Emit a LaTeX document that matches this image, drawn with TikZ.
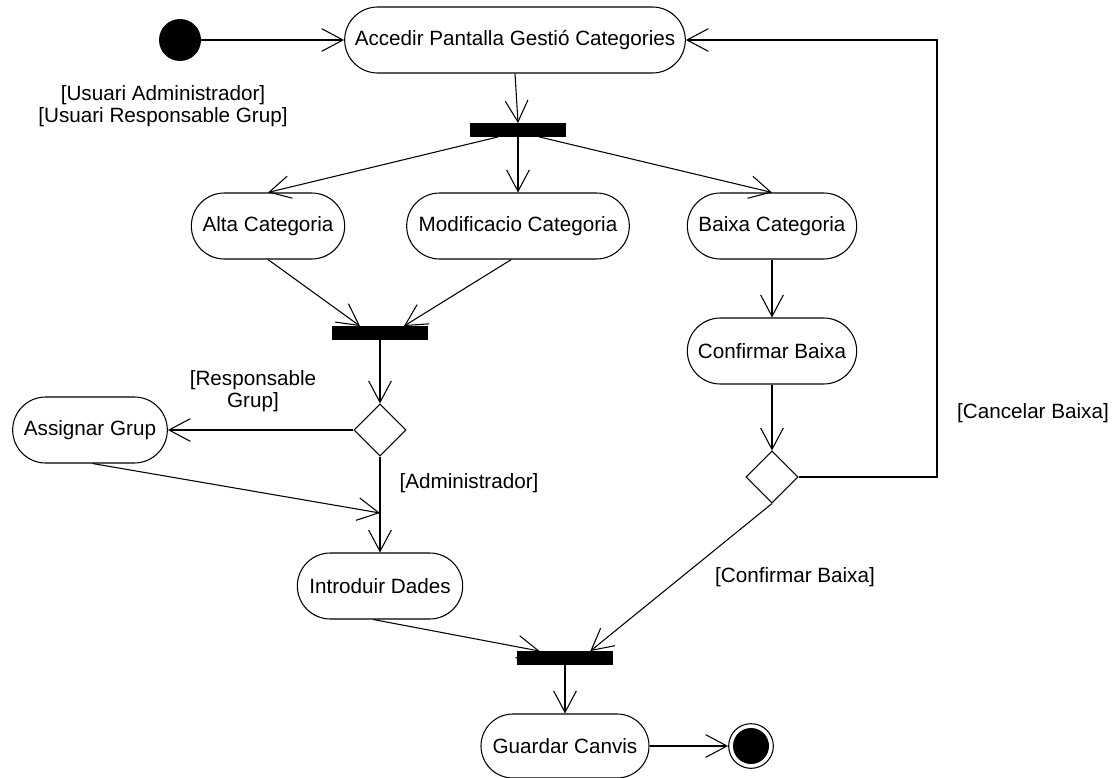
\documentclass[tikz,border=0pt]{standalone}
\usepackage{fontspec}
\setmainfont{Liberation Sans}
\usetikzlibrary{arrows.meta,shapes.misc,shapes.geometric}
\begin{document}
\begin{tikzpicture}[x=0.75pt,y=-0.75pt,
  font=\fontsize{15.5}{16.5}\selectfont,
  act/.style={rounded rectangle,draw,line width=0.8pt,minimum height=49.5pt,inner sep=2pt},
  bar/.style={fill=black,minimum width=72pt,minimum height=10pt,inner sep=0},
  dec/.style={diamond,draw,line width=0.8pt,minimum width=39pt,minimum height=39pt,inner sep=0},
  flow/.style={line width=0.8pt,-{Straight Barb[length=16pt,width=17pt,line width=0.8pt]}},
  lbl/.style={align=center,inner sep=0}]
\useasboundingbox (0,0) rectangle (1114,778);
% nodes
\node[circle,fill=black,minimum size=31.5pt,inner sep=0] (start) at (180,40) {};
\node[act,minimum width=259.5pt] (acc) at (515,40) {Accedir Pantalla Gestió Categories};
\node[bar] (bar1) at (518,130) {};
\node[act,minimum width=119pt] (alta) at (268,226) {Alta Categoria};
\node[act,minimum width=171pt] (mod) at (518,226) {Modificacio Categoria};
\node[act,minimum width=131pt] (baixa) at (772,226) {Baixa Categoria};
\node[bar] (bar2) at (380,333) {};
\node[act,minimum width=131pt] (conf) at (772,351) {Confirmar Baixa};
\node[dec] (d1) at (380,430) {};
\node[act,minimum width=120pt] (assig) at (90,430) {Assignar Grup};
\node[act,minimum width=128pt] (intro) at (380,586) {Introduir Dades};
\node[dec] (d2) at (772,477) {};
\node[bar] (bar3) at (565,658) {};
\node[act,minimum width=130pt,minimum height=48pt] (guard) at (565,746) {Guardar Canvis};
\node[circle,draw,line width=0.8pt,minimum size=33.5pt,inner sep=0] (end) at (751,746) {};
\node[circle,fill=black,minimum size=27pt,inner sep=0] (endin) at (end) {};
\coordinate (m) at (380,513);
\coordinate (rx) at (937,0);
% labels
\node[lbl] (l1) at (163,106) {{[Usuari Administrador]}\\ {[Usuari Responsable Grup]}};
\node[lbl] (l2) at (253,391) {{[Responsable}\\ {Grup]}};
\node[lbl] (l3) at (469,483) {{[Administrador]}};
\node[lbl] (l4) at (1033,413) {{[Cancelar Baixa]}};
\node[lbl] (l5) at (795,577) {{[Confirmar Baixa]}};
% connectors
\draw[flow] (start) -- (acc.west);
\draw[flow] (acc.south) -- (bar1.north);
\draw[flow] ([xshift=-15pt]bar1.south) -- (alta.north);
\draw[flow] (bar1.south) -- (mod.north);
\draw[flow] ([xshift=16pt]bar1.south) -- (baixa.north);
\draw[flow] (alta.south) -- ([xshift=-15pt]bar2.north);
\draw[flow] ([xshift=-5pt]mod.south) -- ([xshift=18pt]bar2.north);
\draw[flow] (bar2.south) -- (d1.north);
\draw[flow] (d1.west) -- (assig.east);
\draw[flow] ([xshift=2pt]assig.south) -- (m);
\draw[flow] (d1.south) -- (intro.north);
\draw[flow] ([xshift=-5pt]intro.south) -- ([xshift=-19pt]bar3.north);
\draw[flow] (baixa.south) -- (conf.north);
\draw[flow] (conf.south) -- (d2.north);
\draw[flow] (d2.south) -- ([xshift=19pt]bar3.north);
\draw[flow] (d2.east) -- (d2.east -| rx) |- (acc.east);
\draw[flow] (bar3.south) -- (guard.north);
\draw[flow] (guard.east) -- (end.west);
\end{tikzpicture}
\end{document}
